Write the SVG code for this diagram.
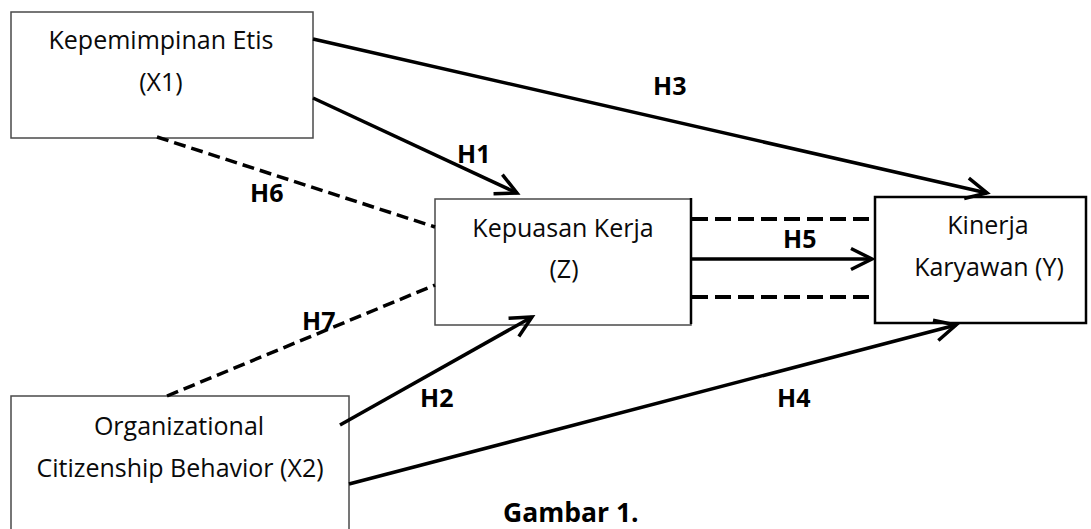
<svg xmlns="http://www.w3.org/2000/svg" width="1091" height="529" viewBox="0 0 1091 529">
  <style>
    .box { fill: #ffffff; stroke: #4a4a4a; stroke-width: 1.5; }
    .boxk { fill: #ffffff; stroke: #000000; stroke-width: 2.5; }
    .txt { font-family: "Open Sans", "Liberation Sans", sans-serif; font-size: 25px; fill: #0a0a0a; text-anchor: middle; }
    .lbl { font-family: "Open Sans", "Liberation Sans", sans-serif; font-size: 25px; font-weight: bold; fill: #000000; }
    .arr { stroke: #000000; stroke-width: 3.5; fill: none; marker-end: url(#ah); }
    .dash { stroke: #000000; stroke-width: 3.5; fill: none; stroke-dasharray: 12 6; }
    .dashh { stroke: #000000; stroke-width: 4; fill: none; stroke-dasharray: 16 7; }
  </style>
  <defs>
    <marker id="ah" markerUnits="userSpaceOnUse" markerWidth="30" markerHeight="30" viewBox="-26 -15 30 30" refX="0" refY="0" orient="auto">
      <path d="M-21,-10.5 L0,0 L-21,10.5" fill="none" stroke="#000000" stroke-width="3.5" stroke-linejoin="miter"/>
    </marker>
  </defs>
  <rect width="1091" height="529" fill="#ffffff"/>

  <g id="node-x1">
    <rect class="box" x="11" y="12" width="302" height="126"/>
    <text class="txt" x="161" y="49">Kepemimpinan Etis</text>
    <text class="txt" x="161" y="91">(X1)</text>
  </g>

  <g id="node-z">
    <rect class="box" x="435" y="199" width="256" height="126"/>
    <text class="txt" x="563" y="237">Kepuasan Kerja</text>
    <text class="txt" x="564" y="278">(Z)</text>
  </g>

  <g id="node-y">
    <rect class="boxk" x="875" y="197" width="211" height="126"/>
    <text class="txt" x="988" y="234">Kinerja</text>
    <text class="txt" x="989" y="276">Karyawan (Y)</text>
  </g>

  <g id="node-x2">
    <rect class="box" x="11" y="396" width="338" height="200"/>
    <text class="txt" x="179" y="435">Organizational</text>
    <text class="txt" x="180" y="477">Citizenship Behavior (X2)</text>
  </g>

  <g id="connectors">
    <line x1="691" y1="198" x2="691" y2="324" stroke="#000000" stroke-width="2.5"/>
    <line class="arr" x1="313" y1="39" x2="987" y2="193"/>
    <line class="arr" x1="313" y1="98" x2="517" y2="193"/>
    <line class="arr" x1="340" y1="425" x2="532" y2="317"/>
    <line class="arr" x1="349" y1="484" x2="956" y2="325"/>
    <line class="arr" x1="691" y1="259" x2="872" y2="259"/>
    <line class="dashh" x1="692" y1="219" x2="875" y2="219"/>
    <line class="dashh" x1="692" y1="297" x2="875" y2="297"/>
    <line class="dash" x1="157" y1="137" x2="435" y2="227"/>
    <line class="dash" x1="167" y1="396" x2="435" y2="285"/>
  </g>

  <g id="labels">
    <text class="lbl" x="457" y="163">H1</text>
    <text class="lbl" x="420" y="407">H2</text>
    <text class="lbl" x="653" y="95">H3</text>
    <text class="lbl" x="777" y="407">H4</text>
    <text class="lbl" x="783" y="248">H5</text>
    <text class="lbl" x="250" y="202">H6</text>
    <text class="lbl" x="302" y="330">H7</text>
    <text class="lbl" x="503" y="522" style="font-size:26.5px">Gambar 1.</text>
  </g>
</svg>
